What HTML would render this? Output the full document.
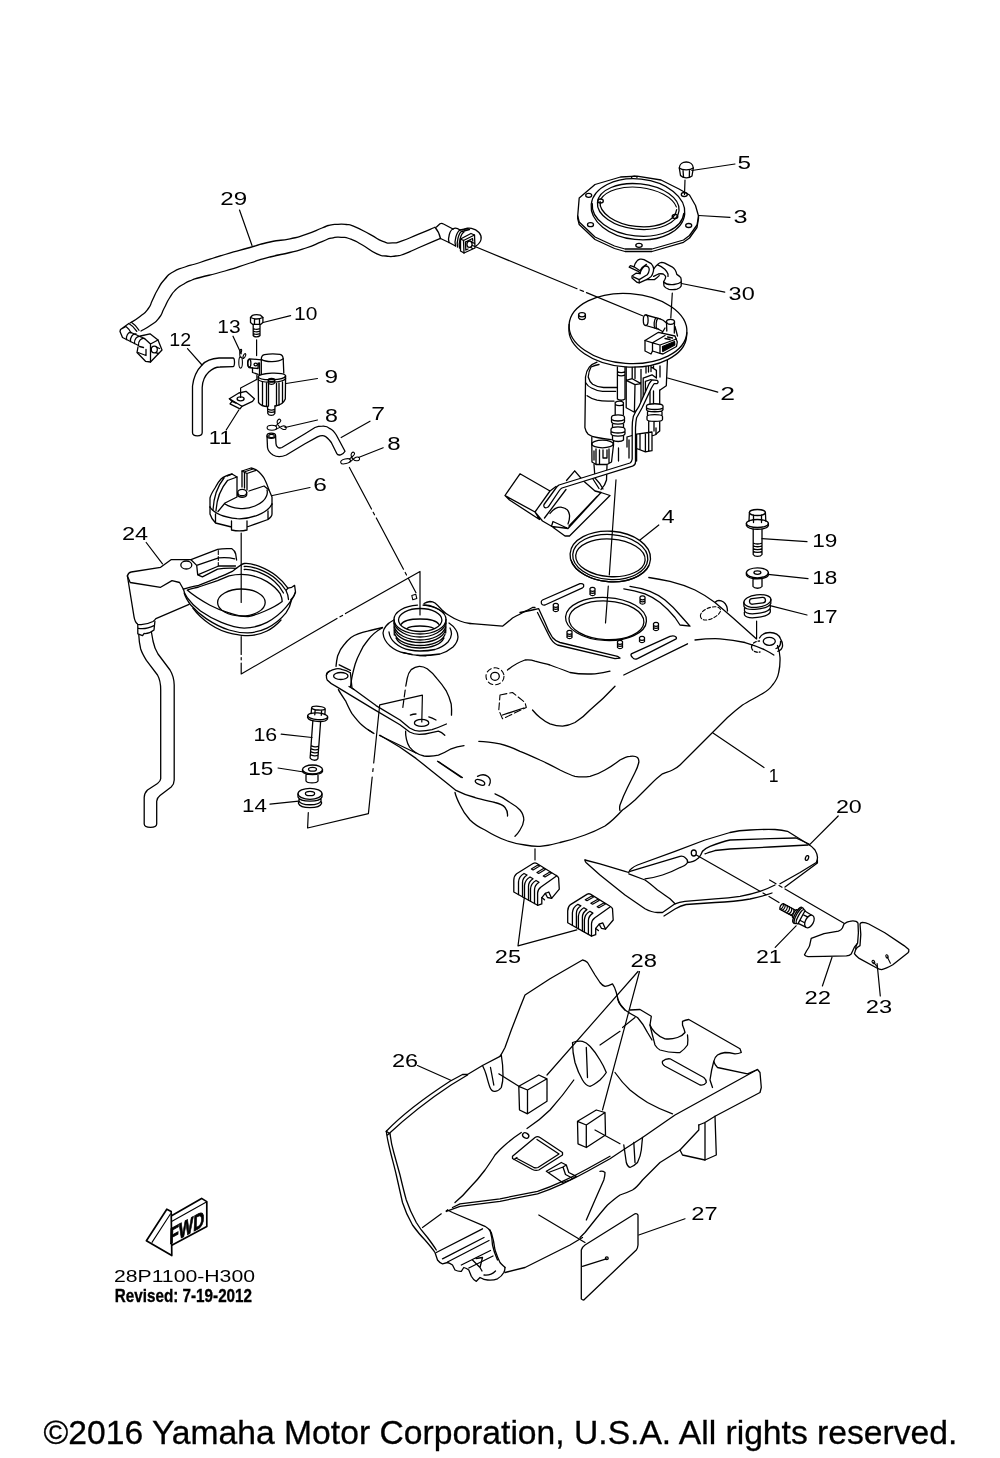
<!DOCTYPE html>
<html lang="en">
<head>
<meta charset="utf-8">
<title>Fuel Tank - 28P1100-H300</title>
<style>
html,body{margin:0;padding:0;background:#fff;}
body{width:1000px;height:1458px;overflow:hidden;position:relative;}
svg{display:block;position:absolute;left:0;top:0;will-change:transform;}
.d path,.d line,.d ellipse,.d circle,.d polyline,.d polygon,.d rect{fill:none;stroke:#000;stroke-width:1.3;stroke-linecap:round;stroke-linejoin:round;}
.d .w{fill:#fff;}
.d .k{fill:#000;}
.d .t{stroke-width:1.1;}
.d .ld{stroke-width:1.2;}
.d .cl{stroke-width:1.25;}
text{font-family:"Liberation Sans",sans-serif;fill:#000;}
.n text{font-size:19.2px;}
</style>
</head>
<body>
<svg width="1000" height="1458" viewBox="0 0 1000 1458">
<rect x="0" y="0" width="1000" height="1458" fill="#fff"/>
<g class="d">
<!-- leader lines -->
<g class="ldr">
<path class="ld" d="M735,164 L691.800,170.500 M730,217.300 L698.800,215.500 M724.800,292.200 L681.500,283.500 M717.800,392.200 L667.600,378 M658.800,525 L640,540"/>
<path class="ld" d="M290.600,315.600 L263,322.500 M233,336.200 L241.200,353.800 M317.500,378.500 L286.200,383.500 M238.800,410 L226.200,430 M317.500,420 L285,427.500 M370,421.200 L341.200,437.500 M383.200,447.800 L358.500,457.500 M310,487.500 L272.500,495.500"/>
<path class="ld" d="M146.200,542.500 L162.500,563.800 M281.200,734.200 L312,737.500 M278,768 L303.800,772 M270,804.200 L298.800,801.200 M764,767.500 L713,733"/>
<path class="ld" d="M807,541.600 L762,538.600 M808,578.600 L768,574.400 M807,615 L770,605.600"/>
<path class="ld" d="M838.200,816 L809.400,844.800 M775.200,947.400 L796.100,925.800 M822.400,986 L832,957.200 M880.300,996 L877.100,963.600"/>
</g>
<!-- 29 hose -->
<path d="M130.0,323.0 C133.3,320.8 134.0,321.2 140.0,316.5 C146.0,311.8 143.8,314.5 148.0,309.0 C152.2,303.5 149.2,306.7 152.5,300.0 C155.8,293.3 154.0,295.8 158.0,289.0 C162.0,282.2 159.5,285.2 164.5,279.5 C169.5,273.8 166.2,276.2 173.0,272.0 C179.8,267.8 176.0,270.2 185.0,267.0 C194.0,263.8 186.7,266.7 200.0,262.5 C213.3,258.3 208.3,259.5 225.0,254.5 C241.7,249.5 235.0,251.7 250.0,247.5 C265.0,243.3 256.7,244.9 270.0,242.0 C283.3,239.1 278.0,241.3 290.0,238.8 C302.0,236.3 295.3,238.0 306.0,234.4 C316.7,230.8 314.0,231.1 322.0,228.0 C330.0,224.9 324.7,226.3 330.0,225.1 C335.3,223.9 332.7,224.5 338.0,224.3 C343.3,224.1 340.7,223.8 346.0,224.5 C351.3,225.2 346.0,223.1 354.0,226.4 C362.0,229.7 360.4,229.4 370.0,234.4 C379.6,239.4 375.3,238.5 382.8,241.3 C390.3,244.1 386.0,243.1 392.4,242.9 C398.8,242.7 393.5,243.6 402.0,240.8 C410.5,238.0 407.2,238.8 418.0,234.4 C428.8,230.0 429.0,229.8 434.5,227.5"/>
<path d="M141.0,331.0 C144.3,329.0 145.0,329.3 151.0,325.0 C157.0,320.7 154.7,323.5 159.0,318.0 C163.3,312.5 160.5,315.2 164.0,308.5 C167.5,301.8 165.5,304.3 169.5,298.0 C173.5,291.7 171.5,294.0 176.0,289.5 C180.5,285.0 177.7,287.7 183.0,284.5 C188.3,281.3 186.3,282.3 192.0,280.0 C197.7,277.7 189.0,280.5 200.0,277.5 C211.0,274.5 208.3,275.8 225.0,271.0 C241.7,266.2 235.0,267.7 250.0,263.0 C265.0,258.3 256.7,260.5 270.0,257.0 C283.3,253.5 278.0,255.5 290.0,252.5 C302.0,249.5 295.3,251.6 306.0,248.0 C316.7,244.4 313.5,244.9 322.0,241.6 C330.5,238.3 325.2,239.5 331.6,238.1 C338.0,236.7 334.8,236.9 341.2,237.3 C347.6,237.7 343.9,236.7 350.8,239.2 C357.7,241.7 353.5,240.0 362.0,244.8 C370.5,249.6 368.4,249.9 376.4,253.6 C384.4,257.3 379.6,255.2 386.0,256.0 C392.4,256.8 389.2,256.8 395.6,256.0 C402.0,255.2 397.7,256.3 405.2,253.6 C412.7,250.9 406.2,253.1 418.0,248.0 C429.8,242.9 433.0,241.6 440.5,238.4"/>
<line class="ld" x1="239.5" y1="210" x2="252" y2="245.5"/>
<!-- right connector of 29 -->
<path d="M435,227.2 C437.5,230 439.5,234 440.5,238.5"/>
<path d="M436.5,227 L440,223.8 C441,223.2 442.5,223.3 443.5,224 L453,229 M440.5,238.5 L449,242.5"/>
<path d="M453,229 C450,230 447.5,238 449,242.5"/>
<path d="M453,229 C455,227.5 458,228.5 460,230 M449,242.5 L455.5,246"/>
<path d="M460,230 C456.5,232 454,241 455.5,246 M462,231 C458.5,233 456.5,242 457.5,247 M464,232 C460.500,234 458.500,243 459.5,248"/>
<path d="M460,230 L468,228.300 M462,231.500 L469.500,229.500"/>
<path d="M460.500,239 L471,233.500 L474.500,235 L475,248 L464,253 L460.500,251 Z"/>
<path d="M463.500,240.500 L464,253 M463.500,240.500 L474.500,235 M463.500,240.500 L460.500,239"/>
<path d="M465.500,242 L472.500,238.500 L472.800,241 M465.500,242 L465.800,250 L468,249"/>
<path d="M464,229.500 C468,227 475,228 479,232.500 C482.500,236.500 482,242 476,246"/>
<ellipse cx="469.500" cy="244.200" rx="2.600" ry="3.200"/>
<path d="M471.500,242 L474.500,243.300 M470.500,247.300 L472.500,248.500"/>
<!-- long centre line to pump -->
<path class="ld" d="M472.500,245.500 L577,288.700 M580,290 L583.500,291.400 M586.500,292.600 L642.500,315.800"/>
<!-- left connector of 29 -->
<path d="M128.800,323.500 C131.500,325 135,328.500 136.800,331.300 M131.300,322.300 C134,324 137.500,327.500 139,330.300"/>
<path d="M128.500,323.700 L120.500,329.500 L120,331.500 L122.500,337.500 L126.500,339.500 M120.500,329.500 L126,326.500 C128,328 130,330.500 131,333"/>
<path d="M126.500,339.500 C126,336 128,332 131,332.500 M130.500,341.500 C130,337.500 132.500,333.500 136,334 M134.500,343.500 C134,339.500 137,335.500 140.500,336.500 M138.500,345.500 C138,341.500 141,337.500 144.500,338.500"/>
<path d="M126.500,339.500 L138.500,345.500 M131,332.500 L144.500,338.500"/>
<path d="M140.500,336 L150,333.800 L158,340 L162,350 L150.500,362 L145.500,361.300 L137,352.500 L138,347"/>
<path d="M144.500,338.500 L150.500,344 L150.500,362 M150.500,344 L158,340 M139.500,346.500 L143.500,347.500 M138,352.500 L146,355.500 L146,349.500"/>
<ellipse cx="154.300" cy="349.500" rx="3" ry="3.400"/>
<path d="M156.500,347.200 L159.500,348.500 M155.500,352.700 L158.500,353.500"/>
<!-- 12 hose -->
<path d="M233,358 L219,358 C210,358.500 205,361.500 202,365 C197,370 193.500,378 192.500,386 L192.500,432.500 C192.500,437 202.200,437 202.200,432.500 L202.200,387.500 C202.500,381 205,375.500 208.800,372 C212,369 216,367 220,367 L233,366.600 C235,366.500 235,358 233,358 Z"/>
<line class="ld" x1="187.500" y1="348.700" x2="202" y2="365"/>
<!-- 10 bolt -->
<path d="M250.500,317.500 L252.500,315.300 C255,314.500 258,314.500 260.500,315.200 L262.900,317.500 L262.900,322.500 L260.600,324.400 L252.800,324.400 L250.500,322.500 Z"/>
<path d="M250.500,317.500 C254,319.300 259,319.300 262.900,317.500 M254.500,319 L254.500,324.300 M259.500,319 L259.500,324.300"/>
<path d="M253.200,324.500 L253.200,335.500 C254.500,337.300 258.500,337.300 260,335.500 L260,324.500 M253.200,328.500 C255,329.500 258,329.500 260,328.500 M253.200,331 C255,332 258,332 260,331 M253.200,333.500 C255,334.500 258,334.500 260,333.500"/>
<path class="ld" d="M256.600,339.800 L256.600,355.600"/>
<!-- 13 clip -->
<ellipse class="t" cx="240.600" cy="362.500" rx="1.800" ry="5.600"/>
<path class="t" d="M240.200,357.500 C239.500,354 239.500,351 240.600,349.400 C242,348.500 242,351.500 240.800,353 M242.800,358.500 C243,356 244,354 245.200,353.600 C246.500,354 245.500,357 243.500,358.500"/>
<!-- 9 valve -->
<path d="M261.300,374 L261.300,359.400 C261.300,356.500 262.500,355 264.500,354.600 C269,353.800 276,353.800 280,354.400 C282,354.800 283,356.500 283.200,358.800 L283.800,373"/>
<path d="M261.300,359.400 C266,362.500 278,362.500 283.200,358.800"/>
<path d="M258.200,377 C258.200,372.500 285.600,371.500 285.600,376 M258.200,377 C260,381 284,380.500 285.600,376 M258.200,379.500 C261,383.500 283.500,383 285.600,378.500"/>
<path d="M258.200,377 L258.500,402.500 C261,406 264,406.500 267.500,406.500 M285.600,376 L285.300,399 C283.500,403.500 279.500,405.500 275,406"/>
<path d="M262.500,382 L262.500,404.500 M266.500,383 L266.500,406 M268.500,383.500 L268.500,406.200 M276.500,383.300 L276.500,405.700 M279,383 L279,405 M282.500,382 L282.500,402.500"/>
<ellipse cx="271.500" cy="380" rx="3.200" ry="1.700"/>
<path d="M268.300,380 L268.300,383 C269.500,384.700 273.500,384.700 274.700,383 L274.700,380"/>
<path d="M267.500,406.500 L267.800,413.500 C269,416 273.500,416 274.800,413.500 L275,406 M267.700,409 C270,410.300 273,410.300 275,409 M267.700,411.300 C270,412.600 273,412.600 275,411.300"/>
<path d="M261.300,359.800 L249.500,358.800 C247.500,359.500 247,365.500 249,367.500 L252.500,368 L252.500,372.500 L258.200,374.400"/>
<ellipse cx="249.300" cy="363.200" rx="1.600" ry="3.800"/>
<ellipse cx="255.700" cy="364.500" rx="1.700" ry="1.400"/>
<path d="M252.500,368 L258,368.500 L258.200,363 M259.500,363 L259.500,374.500"/>
<path class="ld" d="M256.900,375 L256.900,379.400 L240.600,388 L240.600,397.500"/>
<!-- 11 clip nut -->
<path d="M229.400,398.800 L238.800,393 L246,391.300 L254.400,398.800 L252.500,401.300 L241.900,406.300 Z"/>
<ellipse cx="240.600" cy="398.800" rx="3.500" ry="2"/>
<path d="M229.400,398.800 L232,401.300 L230,403.800 L240,408.800 L241.900,406.300 M232,401.300 L236,403.200"/>
<!-- 8 clip upper -->
<ellipse class="t" cx="271.900" cy="427.800" rx="4.800" ry="2.500"/>
<path class="t" d="M275.500,426 C277,424.500 279,423.500 280.500,421.500 C281.500,419.500 279.500,418.500 278,419.800 C276.500,421.500 277.500,424.500 279.500,426.800 C281,429 284.500,430.500 286,428.800 C287,427 285,425.500 282.800,426 C280.500,426.500 278.500,428.500 276,429.300"/>
<!-- 7 hose -->
<ellipse cx="271.300" cy="435.700" rx="4.300" ry="2.600"/>
<ellipse class="t" cx="271.500" cy="436" rx="2.800" ry="1.600"/>
<path d="M267,436 L267.500,447.500 C268,451 270,453 273,455 C276,456.800 281,457.300 286.300,455 L305,443.800 L317.500,436.900 C320,435.700 322,435.300 324,435.800 C327,436.800 329.500,440 331.300,442.500 L336.900,453.800 C338,456 343,455 345,451.300 L336.300,435 C334,431.500 332,429.500 330,428.700 C327.500,426.500 325,426 322.500,426.200 C320,426.200 317.500,426.500 315,427.500 L305,433.700 L281.900,447.500 C280,448.300 279,448.200 278,447.500 C276.500,446.500 276,445 276,443.700 L275.600,436.300"/>
<!-- 8 clip lower -->
<ellipse class="t" cx="345.600" cy="461.300" rx="5" ry="2.300" transform="rotate(-14 345.600 461.300)"/>
<path class="t" d="M349.500,459 C351,457.500 353,456.500 354.300,454.500 C355.300,452.500 353.300,451.500 351.800,452.800 C350.300,454.500 351.300,457.500 353.300,459.300 C355,461 358.500,461.500 359.500,459.500 C360,457.500 358,456.500 356,457.300 C353.500,458.300 352,460.500 349.800,462"/>
<!-- centre line from 8 to filler neck -->
<path class="ld" d="M349.400,467.500 L371.500,509 M373.200,512.300 L374.500,514.800 M376.300,518 L403.500,569.200 M405.200,572.500 L406.500,575 M408.300,578.200 L416,592.700"/>
<path class="t" d="M411.800,595.500 L415.800,594.300 L416.800,598.500 L412.800,599.800 Z"/>
<!-- 6 cap -->
<path d="M210,507 L210,498 C211,494 213,491 215,488 C217,484 219,481 221,479 C224,476.500 228,475 232,474 L237,477 L237,497 L225,503 L218,511.500"/>
<path d="M213,510 C213.500,500 216,488 224,478 M216,511 C216.500,502 219.500,490 227.500,480.500 M232,474 L227.500,476 M237,477 L227.500,480.500"/>
<path d="M242,487 L242,471 L251,468 C254,468.500 257,470 259,472 C262,475 264,477.500 265,480 C267,484 268,487 269,490 L272,497 L272,504"/>
<path d="M242,471 L247,473.500 L247,490 M247,473.500 L256,470.300 M244,472 L253,469 M244.500,472.500 L244.500,488"/>
<path d="M249,491 L264,486 L269,490"/>
<ellipse cx="242.200" cy="492.500" rx="4.500" ry="3.200"/>
<path d="M237.700,492.500 L237.700,495 C238.500,498 245.500,498 246.700,495 L246.700,492.500"/>
<path d="M225,504 C232,508.500 245,510.500 255,506 C261,503.500 265,500 266.500,496 C267.500,493.500 267.500,491.500 267,490"/>
<path d="M210,507 C213,512 222,517 237,518.700 C250,519.500 268,513 272,504"/>
<path d="M210,507 L210,514 C211,517.500 213,520.500 215.500,523 L215.500,514 M215.500,523 L231.500,527 L231.500,521 M231.500,527 L231.500,530 C236,531 243,531 247,530 L247,521 M247,527 L268,519.500 L268,511 M268,519.500 C270,518 272,516 272,514 L272,504"/>
<path class="ld" d="M241.200,533 L241.200,602.500"/>
<!-- 24 tray -->
<path d="M127.400,576 C128,573.500 129.500,572.300 131.200,572 L160.600,567.300 L171,559.700 L191,559.700 L217.600,549.300 C222,548.500 228,548.500 231.900,548.700 C234,550 235.300,552 235.700,554 L236.600,560"/>
<path d="M127.400,576 L130.200,582.500 L160.600,587.300 L172,580.600 L179.600,582.500 L183.400,589.200"/>
<path d="M127.400,576 L134,616.700 C134.500,620 136,623 137.800,624.300 C142,625 149,623.500 153,621.500 C154.500,620.500 155.500,619.500 155.900,618.600 L189.100,604.400"/>
<path d="M191,559.700 L196.700,565.400 L197.700,574.900 L202.400,576.800 L217.600,569.200 C224,568 230,568 236.600,568.300 M196.700,565.400 L218.600,557.800 C224,557.300 230,557.500 234.700,558.800 M197.700,574.900 L218.600,566 L235.500,566"/>
<path class="t" stroke-dasharray="4 2" d="M218.300,550.500 L218.300,566"/>
<ellipse cx="186.300" cy="565" rx="5.500" ry="4"/>
<path d="M183.400,589.200 C188,587.500 193,586.500 198.600,585.400 L217.600,577.800 C223,575.500 228,573.500 232.800,571.100 C237,568 240.500,564.500 244.200,563.500 C249,563 254.500,564.500 259.400,566.400 C265.500,568.800 271.500,572 276.500,576 C281,579.500 285,584 287.900,588.200 L291.700,587.300 L294.600,585.400 L295.500,592 C295,595 293,597.500 290.800,599.600"/>
<path d="M183.400,589.200 C184,592.500 185.500,595.500 187.200,597.700 C191,603 195.500,607.500 200.500,611 C207,615.500 214,619.500 221.400,622.400 C229,625.500 237,628 244.200,628.100 C252,628 260,626 267,622.400 C274.500,618.500 281,613 286,607.200 C290,602.500 294,597 295.500,592"/>
<path d="M184.200,593 C185.500,597.500 188,601.500 191,605.300 C195.500,610.500 200.500,615 206.200,618.600 C213.500,623.500 221,627.500 229,630 C235.500,632 242,633 248,632.900 C254.500,632.500 261,631 267,628.100 C274.500,624.500 281,619 286,612.900 C288.500,609.500 290.500,605 291.500,600"/>
<path d="M192.900,608.200 C197.500,614.500 203.500,620 210,624.300 C217,629 225,632.500 232.800,633.800 C238,634.800 243,635.700 248,635.700 C254.500,635.500 261,634 267,631 C272,628.500 277,624.500 281,620"/>
<path d="M187.200,590.100 C191,589 195,588 198.600,587 L217.600,580.600 L229,575.900 C235,574.500 242,574 248,574.900 C255,576 261.500,578.500 267,581.600 C272.500,585 277.500,589.500 280.300,593.900 C281.500,596.500 282.200,599 282.200,601.500 C277,605.500 271,608.500 265.100,611 C259.500,613.500 254,615.500 248,616.700 C241.500,616.500 235,615 229,612.900 C222.500,611 216,608.500 210,605.300 C203,601.500 194,596 187.200,590.100 Z"/>
<path d="M244.200,566.500 C249,566 254.500,567.500 259.400,569.400 C265.500,571.800 271.500,575 276,579 C280,582.500 283.500,586.500 286,590.500 L287.900,588.200 M286,590.500 C287.500,593.500 288.500,596.500 288.500,599.500 M244.200,569.500 C249,569.200 254.500,570.500 259.400,572.400 C265.500,574.800 270.500,577.800 274.500,581.500 C278.500,585 281.500,589 283.500,593"/>
<ellipse cx="241.400" cy="602.500" rx="23.800" ry="13.500"/>
<!-- fitting + tube -->
<path d="M137.800,624.300 L137.800,633.800 L142.600,635.700 L144,633.500 C147.500,633.800 151,632.500 154,630 L154.900,621.500 M137.800,628.100 C143,629.500 149,628 154.500,625.300"/>
<path d="M138.800,635 C139,641 139.800,645.500 140.700,649 C142,653 144,656.500 146.400,660.400 L157.500,675 C159.500,678.500 160.700,684 160.700,690 L160.700,778.700 C160.500,781 159.500,782 157.500,783.500 L147.500,790 C145.500,792 144.200,794.500 144.200,797.500 L144.200,824 C144.500,828.500 156.500,828.500 156.700,824 L156.700,801.200 C157,798.500 158,797 160,795.500 L171.200,787 C173.200,785 174.200,783 174.200,780 L174.200,685 C174,678.500 172.500,674 170,670 L158,654 C155.500,650 154,646 153,641 L151.500,632.500"/>
<!-- centre lines below tray -->
<path class="ld" d="M241.200,636.500 L241.200,654.500 M241.200,657.500 L241.200,659.800 M241.200,663 L241.200,674 L337,618.500 M340,616.800 L342.500,615.400 M345.500,613.600 L420,571.500 L420,615"/>
<!-- 16 bolt -->
<g transform="rotate(4.2 318 712)">
<path d="M311.300,708.500 C311.300,705.500 325,705.500 325,708.500 L325,714 M311.300,708.500 L311.300,714 M311.300,708.500 C313,710.500 323,710.500 325,708.500 M315,710 L315,715 M321.500,710 L321.500,715"/>
<ellipse cx="318" cy="716.300" rx="10" ry="3.400"/>
<path d="M308,716.300 L308,718.300 C310,722.500 326,722.500 328,718.300 L328,716.300"/>
<path d="M313.500,721.300 L313.500,758.500 C315,761 320,761 321.300,758.500 L321.300,721.300 M313.500,746 C315.500,747.300 319.500,747.300 321.300,746 M313.500,749 C315.500,750.300 319.500,750.300 321.300,749 M313.500,752 C315.500,753.300 319.500,753.300 321.300,752 M313.500,755 C315.500,756.300 319.500,756.300 321.300,755"/>
</g>
<!-- 15 collar -->
<ellipse cx="312.500" cy="769.500" rx="10" ry="4.500"/>
<ellipse cx="312.500" cy="769.300" rx="4" ry="1.900"/>
<path d="M302.500,769.500 L302.500,771.500 C304,775.500 321,775.500 322.500,771.500 L322.500,769.500 M306,775 L306,781 C307.500,783.500 316.500,783.500 318,781 L318,775"/>
<!-- 14 grommet -->
<ellipse cx="310" cy="793.800" rx="12" ry="5.500"/>
<ellipse cx="310" cy="793.500" rx="4.600" ry="2.200"/>
<path d="M298,793.800 L298,797 C300,802.500 320,802.500 322,797 L322,793.800 M299,798.500 L299,801 C301,806 319,806 321,801 L321,798.500 M298.500,802 L298.500,803.500 C300.500,809 319.500,809 321.500,803.500 L321.500,802"/>
<path class="ld" d="M308.300,812.500 L307.600,828 L368.400,813.600 L372.200,777 M372.800,771.500 L373.100,768.500 M373.700,763 L379.700,704.800 L422.400,695.200 L421.800,722"/>
<!-- 19 bolt -->
<ellipse cx="757.400" cy="512.500" rx="8" ry="3"/>
<path d="M749.400,512.500 L749,521 M765.400,512.500 L765.800,521 M753.500,515.200 L753.500,522.500 M761.500,515.200 L761.500,522.500"/>
<ellipse cx="757.400" cy="523.500" rx="11" ry="4"/>
<path d="M746.400,523.500 L746.400,525.500 C748.500,530.500 766.500,530.500 768.400,525.500 L768.400,523.500"/>
<path d="M753.200,529 L753.200,554.500 C754.500,557 760.500,557 762,554.500 L762,529 M753.200,543 C755,544.300 760,544.300 762,543 M753.200,545.800 C755,547.100 760,547.100 762,545.800 M753.200,548.600 C755,549.900 760,549.900 762,548.600 M753.200,551.400 C755,552.700 760,552.700 762,551.400"/>
<!-- 18 collar -->
<ellipse cx="757.400" cy="572.800" rx="11" ry="5"/>
<ellipse cx="757.400" cy="572.600" rx="3.500" ry="1.800"/>
<path d="M746.400,572.800 L746.400,575 C748.500,580 766.500,580 768.400,575 L768.400,572.800 M753,579 L753,586.500 C754.500,588.800 760.500,588.800 762,586.500 L762,579"/>
<!-- 17 grommet -->
<g transform="rotate(-7 757.4 601)">
<ellipse cx="757.400" cy="601" rx="13.600" ry="6.200"/>
<rect x="749.500" y="598" width="16" height="5.600" rx="2.800" ry="2.800"/>
</g>
<path d="M743.800,602.500 L744,606.500 C746.500,611.500 768,609.500 770.800,603.500 L770.800,599.500 M744.500,608 L744.500,611 C747,616 768,613.500 770.300,608 L770.300,605 M744.300,612.500 L744.500,615 C747,620 768,617.500 770.300,612 L770.300,609.500"/>
<path class="ld" d="M756.600,621 L756.600,639"/>
<!-- 5 nut -->
<path d="M679.300,168 C679.500,160 693,160 693.300,168 L692,176 C689,178.500 683,178.500 680.500,175.500 Z"/>
<path d="M679.300,168 C682,170.300 690,170.500 693.300,168 M683,170 L683.500,177 M689.500,170 L689.300,177.300"/>
<path class="ld" d="M685,180 L684.500,194.500"/>
<!-- 3 retainer -->
<path d="M579.200,198 L595,184.500 L620.500,177 L637,176.200 L661,180 L679,189 L689.500,195 L695.500,205.500 L698.500,216 L697,225 L689.500,235.500 L683.500,240 L652,249 L625,249 L614.500,246 L595,237 L579.200,222 L577.700,216 Z"/>
<path d="M577.700,216 L577.700,218.700 L579.200,224.500 L595,239.500 L614.500,248.500 L625,251.500 L652,251.500 L683.500,242.300 L689.500,238 L697,227.500 L698.500,218.500 L698.500,216"/>
<g transform="rotate(6 638 209)">
<ellipse cx="638" cy="209.300" rx="47" ry="30.300"/>
<path d="M592,208.500 A46,27.500 0 0 0 684,208.500"/>
<ellipse cx="638" cy="206.500" rx="41" ry="22.700"/>
<path d="M599.500,205.500 A38.500,21 0 0 0 676.500,205.500"/>
<path class="t" d="M600,203 A39.500,21.500 0 0 1 676,203"/>
</g>
<ellipse cx="600.500" cy="201" rx="2.800" ry="2"/>
<ellipse cx="675" cy="216.500" rx="2.800" ry="2"/>
<ellipse cx="588.700" cy="195.300" rx="3" ry="2"/>
<ellipse cx="590.500" cy="224.700" rx="3" ry="2"/>
<ellipse cx="639" cy="245.300" rx="3.200" ry="2"/>
<ellipse cx="688.700" cy="225.500" rx="3" ry="2"/>
<ellipse cx="684.300" cy="194.500" rx="3" ry="2"/>
<path d="M631.500,177.500 C632,175.800 636.500,175.800 637,177.300"/>
<!-- 30 clip -->
<path d="M629.200,267.200 L630.400,265.600 L634,266.800 C634.500,264.500 635.500,262.500 636.800,261.200 C637.800,260 638.800,259.500 640,259.200 C641.500,259 643,259.200 644,259.600 L651.200,263.600 C652.500,265 653.300,266.500 653.600,268.400 C653.700,270 653.400,271.800 652.800,273.200 C652.500,274.500 652,275.500 651.200,276.400 C649.800,277.800 648,278.800 646.400,279.600 L639.200,282.800 L637.200,282.400 L632,278 L632,276 L636,273.200 L640,273.600 L638.800,271.600 L629.200,267.200 Z"/>
<path d="M640,273.600 C640.500,271.500 641.300,269.800 642.400,268.400 C643.300,267.200 644.400,266.400 645.600,266 C646.800,266 647.800,266.500 648.400,267.200 C649,268 649.300,269 649.200,270 C649,272 648.300,273.500 647.200,274.800 L639.200,279.600 L633.200,276.800 M634,266.800 L640,270.800 C641.500,268 643.800,265.800 646.400,264.400 M639.200,279.600 L639.200,282.800"/>
<path d="M653.600,269.200 C654.500,267.300 656,265.700 657.600,264.400 C658.800,263.300 660.200,262.600 661.600,262.400 C662.700,262.400 663.800,262.700 664.800,263.200 L672,266.800 C673.300,267.700 674.400,268.800 675.200,270 C676,271.400 676.500,272.900 676.800,274.400 C678.200,275.300 679.600,276.400 680.800,277.600 C681.200,279 681.300,280.500 681.200,282 L681.200,286 C680.500,287.500 679,288.600 677,289.200 C674.500,289.800 671.500,289.800 669,289.300 C666.500,288.600 664.800,287.500 664,286 L663.600,282 C664,280.800 664.500,280 664.800,279.600 C665.500,278.500 665.800,277.400 665.600,276.400 C665,275.400 664.200,274.600 663.200,274 C661.600,273.700 660,273.700 658.400,274 L653.600,276.400"/>
<path d="M657.600,264.900 C660.200,265.900 662.600,267.400 664.800,269.200 C666.200,270.600 667.300,272.200 668,274 L668,276.400 M646.400,279.600 L654.400,279.600 C656.200,278.500 657.800,277.200 659.200,275.600"/>
<path d="M663.600,282 C666,284.500 670,285 674,284.500 C677.500,284 680,283 681.200,282"/>
<path class="ld" d="M672.300,293 L670.800,318"/>
<!-- 2 fuel pump -->
<g transform="rotate(4 628 328.5)">
<ellipse cx="628" cy="328.500" rx="59" ry="35"/>
<path d="M569,328.500 L569,332 A59,35 0 0 0 687,332 L687,328.500"/>
</g>
<ellipse cx="582" cy="314.800" rx="3.400" ry="2.100"/>
<path d="M578.600,314.800 L578.600,317.800 C579.500,320.300 584.500,320.300 585.400,317.800 L585.400,314.800"/>
<!-- nozzle -->
<path d="M645.800,315 L660,318.800 M645.800,325.500 L658.500,329.200"/>
<ellipse cx="645.700" cy="320.200" rx="2.400" ry="5.300"/>
<path d="M656,317.800 C654,319.500 653.500,326 655,328.200 M658,318.300 C656,320 655.500,326.500 657,328.800 M660,318.800 C662,319.300 664.500,321 666.500,323 M658.500,329.200 L662.500,331.500"/>
<ellipse cx="670.500" cy="321.800" rx="4" ry="2.500"/>
<path d="M666.500,321.800 L666.800,331 M674.500,321.800 L674.300,333 M665,328 L662,333 M675,326.500 L677.500,336"/>
<!-- connector -->
<path d="M645,340.500 L658.500,332.300 L675,336 L677.300,342 L676.500,346.500 L663,354 L660,353.300 L652.500,351 L651,354 L645,351 Z"/>
<path d="M652.500,351 L652.500,342.800 L660,345 L660,353.300 M652.500,342.800 L665,335.500 M660,345 L676.500,339 M645,340.500 L652.500,342.800"/>
<path class="k" d="M662.500,346.500 L674.500,341.500 L674.800,345 L662.800,351.500 Z"/>
<path d="M665,338.500 L670,339.500 M667.500,337 L672.500,338"/>
<!-- housing right -->
<path d="M667.400,360.500 L666.300,385.800 L659.700,390.200 M660,366 L660,377"/>
<!-- filter cylinder -->
<path d="M597,362.200 C593.500,363.500 591,365 589.300,367.100 C587,370 585.800,373.500 585.500,377 L585.500,382.500 L584.900,427.600 C585.500,430.500 586.500,432.500 588.200,434.200 C590.500,436 593.500,437 597,437.500 C601.500,438.500 606.500,439.300 611.300,439.700"/>
<path d="M599,364.500 C595.500,365 593,366 591,367 C589.300,370 588.500,373.500 588.200,377 C589,380 590.500,382.500 592.600,384.200 C596,386.300 600,387.300 603.600,387.500 L616.800,387.500"/>
<path d="M585.500,382.500 C587,385 589,387 591.500,388 C595,390 599,391 602.500,391.300 L615.700,391.300"/>
<path d="M587.100,395.700 C590,397.800 593.500,399.300 597,400.100 C600.500,400.800 604.500,401.100 608,401.200 L614,401.200"/>
<!-- vertical tube -->
<path d="M617.400,367 L617.400,399 M625,367.500 L625,399 M617.400,371.500 C619.500,373 623,373 625,371.500 M617.400,374.800 C619.500,376.300 623,376.300 625,374.800 M617.400,399 C619.500,400.500 623,400.500 625,399 M615.200,402.500 C617.500,400.800 621.500,400.800 623.400,402.500 L623.400,414.400 M615.200,402.500 L615.200,414.400 M615.200,404.500 C617.500,406 621.500,406 623.400,404.500"/>
<path d="M611.500,417.500 C611.500,414 624.500,414 624.500,417.500 L624.500,421.500 C624.500,425 611.500,425 611.500,421.500 Z M612.500,424 L612.500,427 M623.500,424 L623.500,427 M611,429.500 C611,426 625,426 625,429.500 L625,433.500 C625,437 611,437 611,433.500 Z M612.500,436 L612.500,440 C615,442 621.500,442 623.500,440 L623.500,436 M611,431.500 C613.500,433.500 622.500,433.500 625,431.500 M611.500,419.500 C614,421.500 622,421.500 624.500,419.500"/>
<!-- central block -->
<path d="M626.200,367.100 L626.200,407.800 L634.400,412.200 L639.900,407.800 M626.200,380.300 L632.200,378.700 L641,383.600 L635,384.700 L626.200,380.300 M635,367.100 L635,378.500 M635,384.700 L634.400,412.200 M641,369.300 L641,403.400 M632.200,367.500 L632.200,378.700"/>
<path d="M643.200,378.100 L652,374.800 L656.400,378.100 L656.400,370.400 L652,367.500 M643.200,378.100 L643.200,398 M645.400,381.400 L651,379.500 M645.400,381.400 L645.400,393 M646,366.500 L646,373 M648.500,366.500 L648.500,372 M651,366 L651,371.500 M653.500,366 L653.500,368.500"/>
<path d="M636.600,434.200 L652,432 L652,450.700 L645.400,451.800 L636.600,448.500 Z M640,434 L640,449.500 M645.400,433 L645.400,451.800 M648.700,432.500 L648.700,451 M652,436 L656,434.500 L656,428 M627,437 L636.600,434.200 L636.600,461 M627,437 L627,447 M618.500,448 L618.500,461 M629,440 L629,458"/>
<!-- right tube -->
<path d="M646.500,406 C646.500,403 663,403 663,406 L663,409.500 C663,412.500 646.500,412.500 646.500,409.500 Z M646.500,408 C649,410 660.500,410 663,408 M647.500,411.500 L647.500,415 M662,411.500 L662,415 M647,416.500 C647,414 662.500,414 662.500,416.500 L662.500,419.500 C662.500,422 647,422 647,419.500 Z M648.700,421.500 L648.700,432.500 M659.700,421.500 L659.700,431 L656,434 M654,422 L654,431"/>
<path d="M659.700,390.200 L659.700,403.500 M653.500,391 L653.500,403.500 M650,392 L650,403.500"/>
<!-- pump inlet -->
<path d="M591.800,437.500 L591.800,444 M613.500,441 L613.500,445"/>
<ellipse cx="602.500" cy="444" rx="10.800" ry="3.800"/>
<path d="M591.800,444 L592,462 L596,464.500 L607,464.500 L611.500,462 L613.500,445 M596,449 L596,464 M599.500,450 L599.500,464.500 M603,450 L603,458 L607,458 L607,450 M609,449 L609,463 M594,451 L594,460"/>
<path d="M594,464.500 L595,478 M607,465.500 L606.500,480 C605.500,484 603.500,487 601,489.500 M595,478 C598,481 601,485 603,489"/>
<!-- float -->
<path d="M505,495.500 L520,473.800 L550,491 L535,512 Z M505,495.500 L509.500,500 L539.500,519.500 L535,512 M550,491 L556,486.500 M535,512 L542.500,521 L551.500,526.300 L565,536 L569.500,536 L610,495.500 L601,492.500 L568,528.500 L551.500,526.300 M551.500,526.300 L553,521.500 L568,528.500 M597,496.500 L569,526"/>
<path d="M550,513.500 C553,509 558,506.500 562,507.300 C566,508 569,511 569.500,515 C569.800,518.500 569,521.500 568,524 M544.500,518 L566,489.500"/>
<path d="M566.500,480.500 L574.700,470.800 L583,480.500 L595,491 L601,492.500 M583,480.500 L588,479 M592,477.500 L599,488.500"/>
<!-- float arm wire -->
<path class="w" d="M657,380.300 L652,379.800 C650,382 648.500,384.500 647.600,386.900 L638.800,406.700 C636.500,410 634.500,413.500 633.300,416.600 C632.500,420 632.200,424 632.200,427.600 L632.200,459 C632,461 631.500,462 630,463 L559,485 C557.500,486 556.500,487 556,488 L544,504.500 C543,507 545,508.500 547,507.500 L548.500,506.700 L559,491 C560,489.500 561,488.500 562,488 L632.500,466.200 C634.500,465.500 635.500,464 635.500,462 L635.500,427.600 C635.700,424 636,420.500 636.600,417.700 L642.100,407.800 L650.900,389.100 C652,387 653,385 654.200,383.600 L657,383.600 C658.500,383 658.500,381 657,380.300"/>
<!-- centre line to tank -->
<path class="ld" d="M616,479.800 L609.300,575 M608.300,586 L605.500,623"/>
<!-- 4 gasket -->
<g transform="rotate(4 610.5 556.5)">
<ellipse cx="610.300" cy="556.500" rx="40.300" ry="25.300"/>
<ellipse cx="610.300" cy="557" rx="37.600" ry="22.500"/>
<ellipse cx="610.500" cy="557.800" rx="34.800" ry="18.800"/>
<path d="M571.500,563 C576,574 592,581.800 610.500,581.800 C629,581.800 645,574 649.500,563"/>
</g>
<!-- 1 fuel tank -->
<!-- left ear -->
<path d="M350.400,672.800 C347.500,671 344.500,669.800 342.400,669.600 C340,668.500 338,668.500 336,668.800 C333.500,669.300 331.500,670 329.600,671.200 C327.500,672.500 326.500,673.800 326.400,675.200 C326.300,677 326.500,678.500 327.200,680 C329.500,682.500 332.500,684.800 336,686.400 L374.400,709.600 L400,724.800 L409.600,732 C412.500,733.500 416,734.300 419.200,734.400 C423,734.300 427,733.800 430.400,732.800 L438.400,731.200 C441,732 443,733.500 444.800,735.200"/>
<path d="M326.400,675.200 C326.500,673.500 327.500,672 329.600,671.200 M350.400,672.800 L352,688 L376,705.600 L400,720 L409.600,728 C412.500,729.800 416,731 419.200,731.200 C423.500,731 428,730.500 432,729.600 C437,728 442,726 446.400,724"/>
<ellipse cx="340.800" cy="676" rx="7.200" ry="3.500"/>
<path d="M349,686.500 L354,689.500" stroke-width="2.200"/>
<path d="M336,666.400 C336.300,663 336.800,659.500 337.600,656 C339,652 341,648 344,644.800 C346,642 348.500,639.500 351,637.500 C355.500,634.500 361.500,632.500 367.500,631.200 C372.500,630 377.500,628.800 382.500,627.500"/>
<path d="M382.500,627.800 C376.500,631 371.500,635.500 368,640 C364.500,644 362,648 360,652.800 C358,656.500 356.500,660 355.200,664 C353.500,670 352,676 351.200,681.600 L350.500,687"/>
<path d="M339.200,664.800 L350.400,670.400"/>
<!-- body below flange -->
<path d="M338.400,689.600 C340.500,693.500 343,697 345.600,700.800 C347.500,705 349.500,709.500 352,713.600 C355,717.500 358,721.500 361.600,724.800 C365,728 369,730.500 372.800,732.800"/>
<path d="M368.500,730 L374,733.500" stroke-width="2.200"/>
<path d="M380,735.200 L400,747.200 L416,758.400 L432,771.200 L448,784 L456,790.400 C462,793.500 468.500,796 475,797.500 C482,799.500 489,801 495,802.500 C499.500,803.500 503,805 505,807.500 C507,810 507.800,813 507.500,816"/>
<path d="M379.500,735.500 L416,753"/>
<path d="M405.600,731.200 C405.500,734 405.800,736.500 406.400,739.200 C407,742 408,744.800 409.600,747.200 C411.500,749.500 413.500,751.500 416,752.800 C418.500,754.500 421,755.500 424,756 C429,756.500 434,756.200 438.400,755.200 C443,753.500 447.500,751 451.200,748.800 C455,747.300 459.500,746.200 464,745.600"/>
<path class="ld" d="M438.400,761.600 L462.400,777.600"/>
<!-- belly -->
<path d="M455,792.500 C456,797 458,801 460,805 C462.500,810.500 466,815.500 470,820 C474.500,824.500 479.500,827.500 485,830 C491.500,834 498,837.500 505,840 C511.500,842.500 518,844.300 525,845 C530,846 535,846.500 540,846.300 C547,845.800 553.500,844.500 560,842.500 C568.500,840.500 577,838 585,835 C592,832.500 598.500,829.500 605,826 C611.500,821.500 617,816 622.500,810 C627,807 631,803.500 635,800 L650,785 C654,781 658,777 662.500,773.800 C666,772.500 669.500,771.500 672.500,770 C675.500,768.500 678,767 680,765 L692.500,752.500 L712.500,732.500 L727.500,717.500 C732.500,713 737.500,708.800 742.500,705 C748,701.500 754,698.500 760,695 C765,692.500 769.500,689.500 772.500,685 C775.500,681.500 777.800,677.500 778.700,672.500 C779.700,668 780.200,663 780,657.500 C779.800,653.500 779,649.500 777.500,645.500"/>
<!-- right ear -->
<path d="M759.500,638 C761,634.800 765,632.500 770,632.500 C775,632.600 779,635 780.500,638.800 C782,641 782.800,643.500 782.500,646.300 C782,648.800 780.200,650.500 777.800,651.300 M776,648.500 C779,647.500 780.800,645 780.500,641.500"/>
<ellipse cx="769.300" cy="641.300" rx="6" ry="4"/>
<path stroke-dasharray="3 2" d="M751.500,647.500 C751.500,644 755,641 759.500,641 M751.500,647.500 C752,651 756,653 760,652"/>
<!-- top right edge -->
<path d="M648.800,577.500 C656,578.500 663,579.800 670,581.300 C679,583.500 687.500,586.500 695,590 C702,593.500 709,598 715,602.500 L732.500,617.500 L756,638.500"/>
<path d="M715.500,602 C717,600 720.500,600 723.500,602 C726,604 727.500,607.500 727.500,611"/>
<path class="t" stroke-dasharray="3.500 2" d="M700.500,616.500 C699.500,613 705,608.500 712,607 C718,606 721,608 720.500,611 C719.500,614.500 714,618.500 708,619.800 C704,620.500 701,619.500 700.500,616.500 Z"/>
<path d="M695,640 C703.500,639 712,638.500 720,638.800 C728.500,639.500 737,640.700 745,642.500 C752,644.500 759,647 765,650 C768,651.500 771,653 773.800,655"/>
<path d="M623.800,675 L687.500,643.800"/>
<!-- middle top edge, right of neck -->
<path d="M470,623.500 L475,623.800 L502.500,626.200 C506,623.500 509.500,620.500 512.500,618 C519,614.500 526,611 532.500,607.500 L535,607.500"/>
<!-- pump plate -->
<path d="M542.500,600 L580,583.700 C582,583.200 583.500,584 583.700,585 C584,586.500 583.500,587.300 582.500,587.800 L545,605 C543,605.500 541.500,604.500 541.300,603 C541,601.500 541.500,600.500 542.500,600 Z"/>
<path d="M520,612.500 L532.500,610 L538.700,608.700 L545,622.500 C547,628 549.500,633 552.500,637.500 C554.500,640 557,641.700 560,642.500 L617.500,656.300 L620,658 M537.500,612.500 L548.700,635 C551,640 554,643.500 557.500,645 L615,658.700 L620,658"/>
<path d="M630,586.300 C637,587.300 644,589 650,591.300 C655.500,593.500 660.500,596.500 665,600 C670.500,604.500 675.500,609.500 680,615 L690,626.200 L680,625 L675,617.500 C670.500,612 665.500,607 660,602.500 C655.500,599 650.500,596 645,593.800 C638,591.500 631,589.800 623.800,588.800"/>
<path d="M631.300,653.800 L670,636.300 C672,635.700 674,635.700 675,636.300 C676.500,637 676.800,638 676.200,638.800 L637.500,658.700 C635.500,659.500 633.500,659 632.500,657.500 C631,656 630.800,654.500 631.300,653.800 Z"/>
<g transform="rotate(3 606 619)">
<ellipse cx="606" cy="619" rx="40.500" ry="21.500"/>
<ellipse cx="606.500" cy="620.300" rx="37.500" ry="19.300"/>
</g>
<g class="stud">
<path d="M590,588.500 L590,594.500 C591,596 594,596 595,594.500 L595,588.500 C594,587 591,587 590,588.500 Z M590,590.500 C591.500,591.500 593.500,591.500 595,590.500 M590,592.500 C591.500,593.500 593.500,593.500 595,592.500"/>
<path d="M640,597 L640,603 C641,604.500 644,604.500 645,603 L645,597 C644,595.500 641,595.500 640,597 Z M640,599 C641.500,600 643.500,600 645,599 M640,601 C641.500,602 643.500,602 645,601"/>
<path d="M653.500,623.500 L653.500,629.500 C654.500,631 657.500,631 658.500,629.500 L658.500,623.500 C657.500,622 654.500,622 653.500,623.500 Z M653.500,625.500 C655,626.500 657,626.500 658.500,625.500 M653.500,627.500 C655,628.500 657,628.500 658.500,627.500"/>
<path d="M639.500,637.500 L639.500,641.500 C640.500,643 643.500,643 644.500,641.500 L644.500,637.500 C643.500,636 640.500,636 639.500,637.500 Z M639.500,639.500 C641,640.500 643,640.500 644.500,639.500"/>
<path d="M617.500,641.500 L617.500,647.500 C618.500,649 621.500,649 622.500,647.500 L622.500,641.500 C621.500,640 618.500,640 617.500,641.500 Z M617.500,643.500 C619,644.500 621,644.500 622.500,643.500 M617.500,645.500 C619,646.500 621,646.500 622.500,645.500"/>
<path d="M567,631.500 L567,637.500 C568,639 571,639 572,637.500 L572,631.500 C571,630 568,630 567,631.500 Z M567,633.500 C568.500,634.500 570.500,634.500 572,633.500 M567,635.500 C568.500,636.500 570.500,636.500 572,635.500"/>
<path d="M553.300,604.500 L553.300,610.500 C554.300,612 557.300,612 558.300,610.500 L558.300,604.500 C557.300,603 554.300,603 553.300,604.500 Z M553.300,606.500 C554.800,607.500 556.800,607.500 558.300,606.500 M553.300,608.500 C554.800,609.500 556.800,609.500 558.300,608.500"/>
</g>
<!-- inner contours -->
<path d="M507.500,670 C513,665.500 519,662 525,660 C528.500,659.500 532,660 535,661.200 C540,662.500 545,663.800 550,665 C557,667.500 563.500,670 570,672.500 C578,674 586.500,674.300 595,673.800 C600.500,673.300 605.500,672.500 610,671.200"/>
<path d="M532.500,710 C535,713 537.500,715.500 540,717.500 C543,720 546.500,722.300 550,723.800 C554,725.300 558,726.200 562.500,726.200 C567,725.800 571,724.500 575,722.500 C580.500,719 585.500,715 590,710 C599,702.500 607.500,694.500 615,686.300"/>
<path d="M478.800,741.300 C486,741.500 493,742.500 500,743.800 C507,745.500 513.500,748.200 520,751.300 C527,754 533.500,757 540,760 C547,763 553.500,766.500 560,770 C565,772.500 570,775 575,776.300 C580,777 585,777 590,776.300 C595.500,775 600.500,772.800 605,770 C610.500,767 615.500,763.500 620,760 C623.500,758 627,756.500 630,756.300 C633,755.800 636,756.300 637.500,757.500 C638.800,759 639,761 638.800,762.500 C638,766 636.500,769.500 635,772.500 C632.500,777.500 630,782.500 627.500,787.500 C624.500,793.500 622,799.500 620,805 C619.500,807 619.500,809 620,810.500"/>
<path d="M495,793.800 C500.500,796 505.500,799 510,802.500 C514,804.800 517.500,807.300 520,810 C522.500,813 523.800,816.500 523.800,820 C523.500,823.500 522,827 520,830 C518.500,832.500 517,834.500 515,836.300"/>
<path d="M437.500,761.300 L461.300,777.500"/>
<ellipse cx="480" cy="782.300" rx="5" ry="2.300" transform="rotate(22 480 782.300)"/>
<path d="M477.500,776.300 C481,774.500 485.500,774.500 488,776.500 C490.500,778.500 491,782 489,785.500"/>
<!-- left bolt recess -->
<path d="M451.500,715.200 C451.700,711.500 451.600,707.500 451.200,704 C450,699.500 448.500,695 446.400,691.200 C443.500,686.500 440.500,682.500 436.800,678.400 C434,674.500 430.800,671.500 427.200,668.800 C424.500,667 422,666.300 419.200,666.400 C416,666.800 413.500,668 411.200,669.600 C409,672 407.800,675 407.200,678.400 L405.800,686"/>
<path class="ld" stroke-dasharray="7 3.500" d="M405.200,690 L402.400,710.400"/>
<ellipse cx="421.600" cy="722.900" rx="7.200" ry="3.500"/>
<path d="M410.400,715.200 C412,714.500 414,714 416,714 M428.800,716.800 C431.500,717.500 434,718.800 436,720"/>
<!-- dashed features -->
<ellipse class="t" cx="495" cy="676.300" rx="9" ry="8.500" stroke-dasharray="5 3"/>
<ellipse cx="495" cy="676.300" rx="4.300" ry="4"/>
<path class="t" stroke-dasharray="7 3" d="M500,695 L512.500,692.500 L525,702.500 L526.300,707.500 L502.500,718.800 L498.800,710 Z"/>
<path d="M502.500,715 L523.800,708"/>
<path class="ld" d="M535,848.800 L535,860"/>
<!-- filler neck -->
<path d="M417.500,605.100 C404.500,605.800 394,612 394,619.500 C394,627.500 405.600,634 420,634 C434.400,634 446,627.500 446,619.500 C446,612 435.500,605.800 423,605.100"/>
<ellipse cx="420.200" cy="620" rx="21.700" ry="11.500"/>
<path d="M401,624.500 C403,621 410.500,619 420,619 C429.500,619 437,621 439,624.500 M407,628.500 C409,626.800 414,626 420,626 C426,626 431,626.800 434,628.500"/>
<path d="M394,619.500 L394.300,635 M446,619.500 L445.700,633"/>
<path d="M394,623 C396.500,631 407,637 420,637 C433,637 443.500,631 446,623 M394.300,627 C397,635 407.500,640 420,640 C432.500,640 443,635 445.700,627 M394.500,630.500 C397.500,638 408,642.500 420,642.500 C432,642.500 442.500,638 445.500,630.500 M395,634.500 C398,641.500 408,645.500 420,645.500 C432,645.500 442,641.500 445,634.500 M396,638 C399,644.500 408.500,648 420,648 C431.500,648 441,644.500 444,638"/>
<path d="M393,620.500 C390,622 387.500,624 386,626 C384,628.500 383,631 383,633 C383.500,638 386,642.500 390,646 C394,649.500 399,652 405,653 C410,654.500 415,655.300 420,655.500 C427,655.500 434,655 440,654 C445,652.500 449.500,650 453,647 C456,644 457.800,640.500 458,637 C458,634.500 457.300,632 456,630 C454.500,627.500 452,625 449,623"/>
<path d="M389,632 C389.500,636 391.500,640 395,643 C399,646.500 404,649 410,650 C413.500,650.700 417,651 420,651 C425,651 430.500,650.500 435,649.500 C440,648 444.500,645.500 448,642 C450,639.500 451.300,637 451.500,634 C451.500,632 451,630 450,628"/>
<path d="M403,652.700 L412,654.500 M417,655.300 L426,655.800" stroke-width="2.200"/>
<path d="M424,603.500 C426,602.300 428,601.700 430,601.500 C431.800,601.500 433.500,602 435,603 C437.500,605 439.800,607.500 442,610 C444.500,612.500 447,614.500 450,616 C453,618 456.500,619.800 460,621 C463,622.200 466.500,623 470,623.500"/>
<path d="M424,605 C427.500,605 431,605.700 434,607 C437.500,608.500 441,610.500 444,613"/>
<!-- 20 heat shield -->
<path d="M585,860 L600,863.800 L625,871.300 L628.800,872.500 C629.500,870.500 630.300,869.500 631.300,868.800 C633,867.300 635,866 637.500,865 L675,851.300 L705,840 L730,832.500 C736.500,831 743,830.300 750,830 C758.500,829.500 767,829.300 775,829.500 C779.500,829.800 783.500,830.300 787.500,831.300 L807.500,843.800 C810.500,845.500 813,847.500 815,850 C816.500,852.500 817.300,855 817.500,857.500 C817.500,859.500 817,861 816.300,862.500 L800,872.500 L780,883.800"/>
<path d="M585,860 C585,861 585.500,862 586,862.500 L600,875 L625,895 L645,908.800 C649,911 653,912.500 657.500,912.500 L662.500,912.500 L675,903.800 C678,902.500 681.500,901.700 685,901.300 L715,898.800 C723.500,898.300 732,897.500 740,896.300 C747,895 754,893.300 760,891.300 C765.500,889.500 770.500,887.300 775,885"/>
<path d="M628.800,873.800 L645,880 C649.500,883 653.500,886.500 657.500,890 C662,893 666,896 670,898.800 L675,903.800"/>
<path d="M630,871.300 L680,856.300 C682,856 684,856.500 685,857.500 C687,859 688,861 687.500,862.500 C686,865 683.500,866.500 680,867.500 C674.500,870.500 668.500,873 662.500,875 C657,876.800 651,878.200 645,878.800"/>
<path d="M702.500,851.300 C704.500,849 707,847.500 710,846.300 C716.500,843.800 723,841.500 730,840 L770,838.600 L796,838 L809,844"/>
<path d="M705,853.800 C708,852.500 711.500,851.500 715,850.500 L730,849 L770,847 L808,845"/>
<path d="M817.400,860 L817.400,863 L785,887 M772,893 C765,895.500 757.500,897.500 750,899 C738.500,901 727,902 715,902.500 L686,904.500 C682,905.500 678.500,907 675,909 L664,916"/>
<path d="M687.500,862.500 C691,862.500 695,861 698.500,858 C700,856.500 701.500,854 702.500,851.300"/>
<ellipse cx="693.800" cy="853" rx="2.500" ry="3"/>
<ellipse cx="807" cy="858" rx="1.500" ry="2.500" transform="rotate(20 807 858)"/>
<path class="ld" d="M696.300,855 L760,891.200 M763,893 L766,894.700 M769,896.500 L779,902.500"/>
<path class="ld" d="M769.600,880 L776,883.800 M779,885.600 L782,887.300 M785,889 L844,923.200"/>
<!-- 21 bolt -->
<g transform="translate(780.4,905.8) rotate(28.4)">
<path class="w" d="M1.500,-3.300 L18,-3.300 L18,3.300 L1.500,3.300 C-0.300,2 -0.300,-2 1.500,-3.300 Z"/>
<path d="M3.500,-3.300 C5,-1.500 5,1.500 3.500,3.300 M6,-3.300 C7.500,-1.500 7.500,1.500 6,3.300 M8.500,-3.300 C10,-1.500 10,1.500 8.500,3.300 M11,-3.300 C12.500,-1.500 12.500,1.500 11,3.300 M13.500,-3.300 C15,-1.500 15,1.500 13.500,3.300 M1.500,-3.300 C3,-1.500 3,1.500 1.500,3.300"/>
<path class="w" d="M16,-4.300 L20,-4.300 L20,4.300 L16,4.300 C14.800,2.500 14.800,-2.500 16,-4.300 Z"/>
<ellipse class="w" cx="19.500" cy="0" rx="2.600" ry="8.800"/>
<ellipse class="w" cx="21" cy="0" rx="2.600" ry="8.800"/>
<ellipse class="w" cx="23" cy="0" rx="2.400" ry="8"/>
<path class="w" d="M24,-7 L33,-6.600 L33,6.600 L24,7 Z"/>
<path d="M25,-3 L31,-3.300 M24.500,3.500 L30.500,3.300"/>
<ellipse class="w" cx="33" cy="0" rx="4" ry="6.800"/>
</g>
<!-- 22 -->
<path d="M844,924 C846,922.500 848,921.500 849.600,921.300 C852,920.800 854,920.800 856,921.300 C857,921.800 857.800,922.500 858,923.200 L858.400,932.800 L857.600,943.200 L854.400,947.200 L851.200,954 C850,955.200 848.500,955.700 846.400,955.900 L824,956.400 L808,956.600 C806.500,956.400 805.200,955.800 804.500,954.800 L806.400,951.200 C807.800,949 809,947.500 809.600,945.600 L811.200,938.400 L824,933.600 L838.400,931.200 C840,930.500 841.500,929.500 842.400,928 Z"/>
<!-- 23 -->
<path d="M860,924 C860.500,923 861.500,922.500 862.400,922.400 C864.500,922.500 866.800,923 868.800,924 L884.800,932.800 L904,945.600 L908.800,949.600 C909,951 908.800,952 908,952.800 L892.800,964.800 C889,967 885.500,968.800 881.600,969.600 C880,969.500 878.500,969 876.800,968 L859.200,958.400 C857.500,957 855.500,955.500 854.400,953.600 L856,948.800 C857,947.500 858.500,946.500 860,945.600 L860.800,934.400 Z"/>
<path class="t" d="M873.600,962.400 L877.600,967.200 M887.200,956.800 L890.400,963.200"/>
<ellipse class="t" cx="873.400" cy="962" rx="1.200" ry="1.800" transform="rotate(-30 873.400 962)"/>
<ellipse class="t" cx="887" cy="956.400" rx="1.100" ry="1.700" transform="rotate(-20 887 956.400)"/>
<path d="M857,944 C856,946 855.500,948 856,949"/>
<!-- 25 dampers -->
<g>
<path d="M513.800,880.100 C514,877 515,875 516.600,873.800 L533.400,863.300 C534.500,862.800 535.500,862.800 536.500,863.300 L555.800,875.200 C557.500,876 558.300,877 558.600,878 L559.300,889.200 L551.600,898.300 L548.800,892 L545.300,893.400 L541.800,897.600 L541.800,903.900 L537.600,905.300 L513.800,892 Z"/>
<path d="M537.600,905.300 L537.600,893 C537.800,890.500 539,888.500 541,887 L556.500,876"/>
<path d="M518.500,894.500 L518.500,882 C518.800,878.500 520.500,875.500 524,873.500 L527,875 C524,877 522.500,879.500 522.500,882.500 L522.500,896.800 M524.500,898 L524.500,885.500 C524.800,882 526.500,879 530,877 L533,878.800 C530,880.800 528.500,883.300 528.500,886.300 L528.500,900.200 M530.500,901.300 L530.500,889 C530.800,885.500 532.500,882.500 536,880.500 L539,882.300 C536,884.300 534.500,886.800 534.500,889.800 L534.500,903.500"/>
<path class="t" d="M531.3,868.9 L537.9,865.1 L539.7,866.1 L533.1,869.9 Z M536.9,872.4 L543.5,868.6 L545.3,869.6 L538.7,873.4 Z M543.2,875.9 L549.8,872.1 L551.6,873.1 L545.0,876.9 Z"/>
<path d="M545.300,893.400 L547.500,897.500 L551.600,898.300 M541.800,897.600 L544.500,899.800"/>
</g>
<g transform="translate(53.900,30.800)">
<path d="M513.800,880.100 C514,877 515,875 516.600,873.800 L533.400,863.300 C534.500,862.800 535.500,862.800 536.500,863.300 L555.800,875.200 C557.500,876 558.300,877 558.600,878 L559.300,889.200 L551.600,898.300 L548.800,892 L545.300,893.400 L541.800,897.600 L541.800,903.900 L537.600,905.300 L513.800,892 Z"/>
<path d="M537.600,905.300 L537.600,893 C537.800,890.500 539,888.500 541,887 L556.500,876"/>
<path d="M518.500,894.500 L518.500,882 C518.800,878.500 520.500,875.500 524,873.500 L527,875 C524,877 522.500,879.500 522.500,882.500 L522.500,896.800 M524.500,898 L524.500,885.500 C524.800,882 526.500,879 530,877 L533,878.800 C530,880.800 528.500,883.300 528.500,886.300 L528.500,900.200 M530.500,901.300 L530.500,889 C530.800,885.500 532.500,882.500 536,880.500 L539,882.300 C536,884.300 534.500,886.800 534.500,889.800 L534.500,903.500"/>
<path class="t" d="M531.3,868.9 L537.9,865.1 L539.7,866.1 L533.1,869.9 Z M536.9,872.4 L543.5,868.6 L545.3,869.6 L538.7,873.4 Z M543.2,875.9 L549.8,872.1 L551.6,873.1 L545.0,876.9 Z"/>
<path d="M545.300,893.400 L547.500,897.500 L551.600,898.300 M541.800,897.600 L544.500,899.800"/>
</g>
<path class="ld" d="M524.300,897.600 L518,945.900 L576.800,929.800"/>
<!-- 26 under cover -->
<!-- left outer edge -->
<path d="M386.300,1131.300 C400,1117 425,1097.500 450,1081.300 L462.500,1074.500 L467.500,1074.500 L482.500,1065.500 L500,1056.300"/>
<path d="M387.500,1135 C402,1121.500 426,1101.500 451,1085 L467.500,1075"/>
<path d="M386.300,1131.300 C387,1137.500 388.500,1144 390,1150 C392,1158.500 394.500,1167 396.300,1175 C398.500,1184.500 400.500,1194 402.500,1202.500 C405,1210.500 408.500,1218 412.500,1225 C416.500,1230.500 420.500,1235.500 425,1240 C428.500,1244 432,1248 435,1252.500 L437.500,1260 C439,1262 440.500,1263.300 442.500,1263.800 L447.500,1262.500 C449.500,1263 451,1264 452.500,1265 L455,1270 C457,1271 459,1271.500 461.300,1271.300 L463.800,1267.500 C465.500,1268 467.500,1269 468.800,1270 L471.300,1276.300 C472.500,1278.500 474.500,1280.500 476.300,1281.300 L480,1277.500 C482.500,1279 485,1280 487.500,1280 C491,1280.300 494.500,1280 497.500,1278.800 C500,1277.300 502.500,1275 503.800,1272.500 C504.500,1271 505,1269.500 505,1267.500"/>
<path d="M390,1133.800 C390.800,1140 392,1146.500 393.800,1152.500 C395.800,1160 398,1167.500 400,1175 C402,1183.500 404,1192 406.300,1200 C409,1208 412.500,1215.500 416.300,1222.500 C419.500,1228 423.500,1233 427.500,1237.500 C430.500,1241.500 433.500,1245.500 436.300,1250"/>
<path d="M386.300,1131.300 L390,1133.800"/>
<!-- front channel -->
<path d="M447.500,1210 L452.500,1212.500 L485,1226.300 C488,1228 490,1230 491.300,1232.500 C493,1238 494.300,1244 495,1250 C496.500,1254.500 498,1258.500 500,1262.500 C501.500,1264.500 503.500,1266 505,1267.500"/>
<path d="M490,1230 C491.500,1235 492.300,1240 492.500,1245 C493.500,1250 495.500,1255.500 497.500,1260"/>
<path d="M436.300,1252.500 L482.500,1228.800 M442.500,1258.800 L484,1237.500 M447.500,1262 L489,1240.500 M461.300,1265 L490.500,1250.500 M468.800,1268 L493,1256"/>
<path d="M472.500,1260 L480,1267.500 L482.500,1257.500 L476,1258.500 M480,1267.500 L482,1271 M484,1275 C488,1275.500 492.500,1274 495.500,1271"/>
<!-- top line of lower body -->
<path d="M447.500,1210 C446.500,1210.500 446,1211 446.300,1211.500 M446.300,1211.300 L460,1206.300 L500,1201.300 L537.500,1193.800 C546,1191 554.500,1187.500 562.500,1183.800 C571,1180 579.500,1175.800 587.500,1171.300 L610,1158.800 L625,1148.800 L642.500,1137.500 L675,1115 L757.500,1069.500"/>
<path d="M452.500,1207.500 L460,1203.800 L500,1198.800 L537.500,1191.300 C546,1188.500 554.500,1185 562.500,1181.300 C571,1177.500 579.500,1173.300 587.500,1168.800 L610,1156.300"/>
<!-- floor curve -->
<path d="M455,1202.500 C460.500,1198 465.500,1193 470,1187.500 C475.500,1182 480.500,1176 485,1170 C488.500,1165 492,1160 495,1155 C498,1151.500 501.500,1148 505,1145 C510,1140.500 515.500,1136.300 521.300,1132.500"/>
<path d="M527,1128.500 C535.500,1123 543.500,1116.500 550,1110 C558.500,1100.500 566.500,1090.500 573.800,1080"/>
<path class="ld" d="M422.500,1227.500 L441.300,1213.800"/>
<ellipse cx="525.700" cy="1135.500" rx="3.300" ry="2.500" transform="rotate(30 525.700 1135.500)"/>
<!-- recess -->
<path d="M512.500,1156.300 L535,1137.500 C536.500,1136.500 538.500,1136.500 540,1137.500 L562.500,1152.500 L562.500,1155 L538.800,1170 C536.500,1170.800 534.500,1170.500 532.500,1169.500 L512.500,1158.500 Z"/>
<path d="M537,1139.500 L559,1154 M514,1159.500 L517,1157.500 M559,1154 L538,1167.500 C536.500,1168 535,1168 533.500,1167.300 L516,1158"/>
<path d="M546.300,1171.300 L561.300,1162.500 L566.300,1165 L568.800,1172.500 L576.300,1176.300 L570,1180 L562.500,1182.500 Z M566.300,1165 L563,1167 L565.500,1174.500 L572,1178 M548.500,1172.500 L563,1167"/>
<!-- upper left wall -->
<path d="M500,1056.300 C502,1053.500 503.500,1050.500 505,1047.500 L511.300,1030 L520,1007.500 L525,995 L550,978.800 L582.500,960 C584.500,960.300 586,961 587.500,962.500 L595,975 L600,982.500 C601.500,984.500 603,985.800 605,986.300 C607.500,986 610,985 612.500,983.800 C614.500,986.500 615.500,989.500 616.300,992.500 L618.800,1002.500 C620.500,1005.500 622.500,1008 625,1010"/>
<!-- left rib -->
<path d="M482.500,1065.500 C484,1068.500 485.300,1071.500 486.300,1075 C487.500,1079.500 488.500,1083.500 490,1087.500 C491,1090 493,1091.500 495,1091.300 C497.500,1091 500,1089.500 501.300,1087.500 C502.500,1083.500 503,1079.500 503,1075 C503,1068.500 502.500,1062 501.300,1055 M490.500,1067.500 L493.800,1085"/>
<path class="ld" d="M498.800,1073.800 L518.800,1086.300"/>
<!-- middle rib -->
<path d="M572.500,1042.500 C572.500,1049.500 573.500,1056.500 575,1062.500 C577,1069 579.500,1075 582.500,1080 C584.500,1083.500 587,1086 590,1086.300 C594,1085 597.500,1082 600,1080 C602.500,1077.500 604.800,1075 606.300,1072.500 C604.500,1068 602.500,1064 600,1060 C597,1055 593.500,1050 590,1046.300 C587.500,1043.500 585,1041.800 582.500,1041.300 C579,1041 575.500,1041.500 572.500,1042.500 Z M586.300,1047.500 L587.500,1077.500"/>
<path class="ld" d="M600,1045 L620,1031.300 M622.500,1027.500 L635,1017.500"/>
<!-- back wall -->
<path d="M630,1010 L640,1009.500 L651.300,1016.300 L650,1025 C651,1028 653,1030.500 655,1032.500 C658,1035.500 661.500,1037.500 665,1038.800 C669,1039.300 673.500,1038.800 677.500,1037.500 C681,1036.300 683.500,1034.500 685,1032.500 C684.500,1030 683.500,1027.500 682.500,1025 L682.500,1021.300 C684.500,1020.300 686.500,1019.800 688.800,1019.500 L740,1048.800 L741.300,1052.500 C739.500,1053.300 737.300,1053.800 735,1053.800 C731.500,1053 728.500,1052.500 725,1052.500 C722,1053 719.500,1053.800 717.500,1055 C715.500,1056.500 714.300,1058.800 713.800,1061.300 C714.500,1064 716,1066 717.500,1067.500 L747.500,1073.800 L757.500,1069.500 L760,1072.500 L761.300,1087.500 L760,1092.500 L715,1116.300 L716.300,1155 L705,1160 L682.500,1155 L680,1150 L698.800,1130 L698.800,1125"/>
<path d="M650,1025 C651.500,1032 653.500,1039 655,1045 C656.500,1047.500 658,1049 660,1050 C666.500,1052 673.500,1052.800 680,1052.500 C683,1050.500 685.500,1048 687.500,1045 C688,1041.500 688,1038.300 687.500,1035 M713.800,1061.300 C712,1067.500 710.800,1074 710,1080 L712.500,1087.500 M705,1122.500 L705,1160 M698.800,1125 L705,1122.500 L715,1116.300"/>
<path d="M617.500,998.800 C619,1003 621.500,1006.500 625,1010 C629,1013 633.500,1015.500 637.500,1017.500 C641.500,1022 645,1027 647.500,1032.500 L652,1040"/>
<path d="M615,1072.500 C619.500,1079 624.500,1085 630,1090 C635.500,1094.500 641.500,1098.800 647.500,1102.500 C655.500,1107 664,1110.800 672.500,1113.800"/>
<path d="M662.500,1061.300 C664.500,1059.500 667.500,1058.500 670,1058.800 L703.800,1077.500 C705.500,1079 706.500,1081 706.300,1082.500 C705,1084.500 702.500,1085.500 700,1085 L665,1066.300 C663,1065 662,1063 662.500,1061.300 Z"/>
<!-- front rib -->
<path d="M623.800,1145 L626.300,1162.500 C627,1165 628.500,1167 630,1167.500 C633,1166.500 635.500,1164.500 637.500,1162.500 C639.500,1158.500 640.800,1154.500 641.300,1150 L642.500,1137.500 M633.800,1142.500 L635,1162.500"/>
<path class="ld" d="M595,1130 L620,1143.800"/>
<!-- lower right -->
<path d="M680,1150 L660,1162.500 C654,1168.500 648,1174.500 642.500,1180 C639,1184.500 636,1188 632.500,1190 C628.500,1192 624.500,1193.500 620,1195 C615.500,1198 611.500,1201.500 607.500,1205 C603,1210 599,1215 595,1220 L585,1232.500 L580,1237.500"/>
<path d="M600,1171.300 C602,1171 603.800,1171.500 605,1172.500 C605,1175 604.500,1177.500 603.800,1180 L595,1200 L586.300,1220"/>
<path d="M505,1272.500 L525,1267.500 L550,1255 L570,1245 L582.500,1237.500"/>
<path class="ld" d="M538.800,1215 L585,1242.500"/>
<!-- 28 pads -->
<path d="M518.800,1086.300 L527.500,1090 L527.500,1113.800 L519.500,1110 Z M518.800,1086.300 L538.800,1075 L547,1078.800 L527.500,1090 M547,1078.800 L547,1101.300 L527.500,1113.800"/>
<path d="M577.500,1121.300 L586.300,1125 L586.300,1147.500 L578,1143.800 Z M577.500,1121.300 L596.300,1110 L605,1112.500 L586.300,1125 M605,1112.500 L605.500,1135 L586.300,1147.500"/>
<path class="ld" d="M638,971.500 L547,1075 M639.500,971.500 L602.500,1110"/>
<!-- 27 -->
<path d="M581.300,1250 C582,1248 583.500,1246 585,1245 L635,1213.800 C636.500,1213.500 637.500,1214 638,1215 L638,1245 C637.800,1247 637.300,1248.800 636.300,1250 L583.800,1300 C582.500,1300 581.800,1299.500 581.300,1298.800 Z"/>
<path d="M582.500,1266.300 L606.300,1258.800"/>
<circle cx="606.800" cy="1258.300" r="1.400"/>
<path class="ld" d="M685,1218.800 L638.800,1235 M417.500,1065.500 L451.300,1080.500"/>
<!-- FWD arrow -->
<g stroke-width="1.7">
<path style="stroke-width:1.7" d="M146.400,1240.800 L166.800,1209.200 L171.200,1211.600 L171.800,1255.600 Z"/>
<path style="stroke-width:1.7" d="M172,1215.600 L201.600,1198.400 L206.800,1201.600 L206.800,1226.400 L171.800,1245.200"/>
<path class="t" d="M152,1242.400 L170.400,1214 M172,1221.200 L205.500,1202.400"/>
</g>

</g>
<g class="n">
<text transform="translate(220.27,204.80) scale(1.258,1)">29</text>
<text transform="translate(737.52,169.30) scale(1.264,1)">5</text>
<text transform="translate(733.44,223.30) scale(1.319,1)">3</text>
<text transform="translate(728.61,300.00) scale(1.223,1)">30</text>
<text transform="translate(720.35,400.30) scale(1.383,1)">2</text>
<text transform="translate(661.66,522.60) scale(1.199,1)">4</text>
<text transform="translate(169.32,345.60) scale(1.024,1)">12</text>
<text transform="translate(294.02,319.50) scale(1.091,1)">10</text>
<text transform="translate(217.22,332.70) scale(1.092,1)">13</text>
<text transform="translate(324.45,383.30) scale(1.273,1)">9</text>
<text transform="translate(325.00,422.30) scale(1.208,1)">8</text>
<text transform="translate(371.24,420.10) scale(1.291,1)">7</text>
<text transform="translate(387.17,450.10) scale(1.252,1)">8</text>
<text transform="translate(208.85,444.10) scale(1.140,1)">11</text>
<text transform="translate(313.26,490.80) scale(1.277,1)">6</text>
<text transform="translate(122.00,539.80) scale(1.226,1)">24</text>
<text transform="translate(253.39,741.00) scale(1.113,1)">16</text>
<text transform="translate(248.29,774.80) scale(1.178,1)">15</text>
<text transform="translate(242.01,811.60) scale(1.163,1)">14</text>
<text transform="translate(768.67,781.90) scale(0.916,1)">1</text>
<text transform="translate(812.29,546.80) scale(1.179,1)">19</text>
<text transform="translate(812.30,583.80) scale(1.174,1)">18</text>
<text transform="translate(812.29,622.90) scale(1.182,1)">17</text>
<text transform="translate(835.92,813.40) scale(1.213,1)">20</text>
<text transform="translate(756.03,963.20) scale(1.203,1)">21</text>
<text transform="translate(804.59,1003.50) scale(1.241,1)">22</text>
<text transform="translate(865.80,1012.50) scale(1.234,1)">23</text>
<text transform="translate(630.59,966.50) scale(1.238,1)">28</text>
<text transform="translate(494.80,963.40) scale(1.226,1)">25</text>
<text transform="translate(391.91,1067.10) scale(1.224,1)">26</text>
<text transform="translate(691.30,1220.00) scale(1.236,1)">27</text>

</g>
<g class="f">
<text font-size="16.8"  transform="translate(113.89,1282.00) scale(1.264,1)">28P1100-H300</text>
<text font-size="18.6" font-weight="bold" stroke="#000" stroke-width="0.35" transform="translate(114.77,1301.50) scale(0.820,1)">Revised: 7-19-2012</text>

<text id="fwd" font-size="22.5" font-weight="bold" stroke="#000" stroke-width="0.9" transform="matrix(0.676,-0.365,-0.04,1,169.3,1244.6)">FWD</text>

<text font-size="33.8" stroke="#000" stroke-width="0.3" transform="translate(43.50,1444.30) scale(0.996,1)">©2016 Yamaha Motor Corporation, U.S.A. All rights reserved.</text>

</g>
</svg>
</body>
</html>
